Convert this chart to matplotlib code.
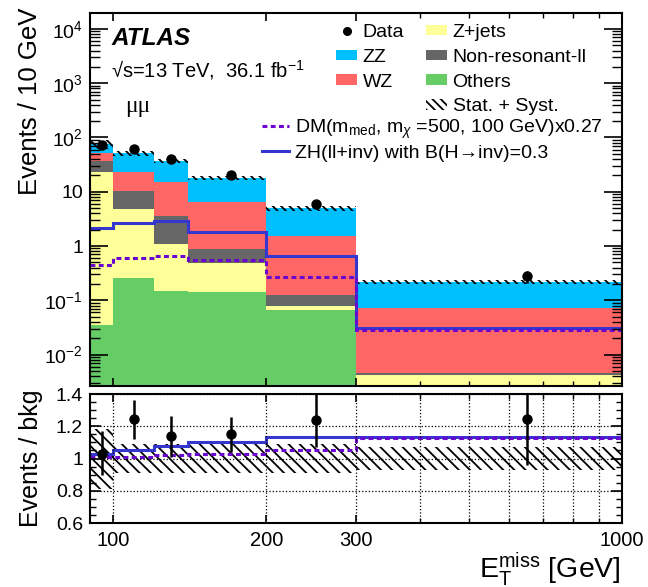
import numpy as np
import matplotlib
matplotlib.use("Agg")
import matplotlib.pyplot as plt
from matplotlib.patches import Patch
from matplotlib.lines import Line2D
from matplotlib.ticker import FixedLocator, FixedFormatter, NullFormatter, LogLocator, MultipleLocator

plt.rcParams['font.family'] = ['Liberation Sans', 'DejaVu Sans']
plt.rcParams['mathtext.fontset'] = 'custom'
plt.rcParams['mathtext.rm'] = 'Liberation Sans'
plt.rcParams['mathtext.it'] = 'Liberation Sans:italic'
plt.rcParams['mathtext.bf'] = 'Liberation Sans:bold'
plt.rcParams['mathtext.sf'] = 'Liberation Sans'
plt.rcParams['hatch.linewidth'] = 1.3

# ---------------- data ----------------
edges = [90, 100, 120, 140, 200, 300, 1000]
centers = [95, 110, 130, 170, 250, 650]

others = [0.035, 0.26, 0.148, 0.144, 0.066, 0.0012]
zjets = [23.4, 4.54, 0.94, 0.35, 0.013, 0.003]
nonres = [14.0, 5.5, 2.5, 0.39, 0.046, 0.0003]
wz = [13.5, 13.2, 11.8, 5.7, 1.4, 0.069]
zz = [24.0, 27.5, 21.1, 11.6, 3.43, 0.146]

data = [73, 61, 40, 20.4, 5.9, 0.276]
data_err = [8.5, 5.5, 4.5, 1.4, 0.75, 0.065]

dm_signal = [0.45, 0.59, 0.66, 0.55, 0.264, 0.028]
zh_signal = [2.12, 2.69, 2.93, 1.8, 0.65, 0.031]

band_lo = [0.812, 0.91, 0.91, 0.91, 0.91, 0.926]
band_hi = [1.183, 1.09, 1.09, 1.09, 1.09, 1.07]

ratio_data = [1.025, 1.245, 1.138, 1.153, 1.24, 1.243]
ratio_err_up = [0.148, 0.12, 0.128, 0.107, 0.18, 0.29]
ratio_err_dn = [0.13, 0.123, 0.13, 0.113, 0.17, 0.286]
ratio_zh = [1.029, 1.054, 1.076, 1.10, 1.136, 1.132]
ratio_dm = [1.008, 1.012, 1.02, 1.025, 1.05, 1.126]

xtick_vals = [100, 200, 300, 1000]
xtick_labels = ['100', '200', '300', '1000']
ytick_vals = [1e-2, 1e-1, 1, 10, 1e2, 1e3, 1e4]
ytick_labels = ['$10^{-2}$', '$10^{-1}$', '1', '10', '$10^{2}$', '$10^{3}$', '$10^{4}$']
rtick_vals = [0.6, 0.8, 1.0, 1.2, 1.4]
rtick_labels = ['0.6', '0.8', '1', '1.2', '1.4']

c_zz = '#00bfff'
c_wz = '#ff6666'
c_zj = '#ffff99'
c_nr = '#666666'
c_ot = '#66cc66'
c_zh = '#3535cf'
c_dm = '#6a06d0'

# ---------------- figure ----------------
W, H = 648, 587
fig = plt.figure(figsize=(W / 100, H / 100), dpi=100)
L, R = 90, 622
ax = fig.add_axes([L / W, 1 - 386 / H, (R - L) / W, (386 - 12.7) / H])
ax2 = fig.add_axes([L / W, 1 - 523 / H, (R - L) / W, (523 - 394) / H])

# stacked histogram
components = [(others, c_ot), (zjets, c_zj), (nonres, c_nr), (wz, c_wz), (zz, c_zz)]
base = np.full(len(centers), 1e-6)
for vals, col in components:
    top = base + np.array(vals)
    ax.stairs(top, edges, baseline=base, fill=True, color=col, linewidth=0)
    base = top
total = base

# uncertainty band
ax.stairs(total * np.array(band_hi), edges, baseline=total * np.array(band_lo),
          fill=True, facecolor='none', edgecolor='black', hatch='\\\\\\\\', linewidth=0)

# signals
ax.stairs(zh_signal, edges, baseline=None, color=c_zh, linewidth=2.2)
ax.stairs(dm_signal, edges, baseline=None, color=c_dm, linewidth=2.2, linestyle=(0, (1.6, 1.1)))

# data
ax.errorbar(centers, data, yerr=data_err, fmt='o', color='black', ms=6.5,
            elinewidth=1.8, capsize=0)

ax.set_xscale('log')
ax.set_yscale('log')
ax.set_xlim(90, 1000)
ax.set_ylim(10 ** -2.58, 10 ** 4.30)

for a in (ax, ax2):
    a.xaxis.set_major_locator(FixedLocator(xtick_vals))
    a.xaxis.set_minor_locator(FixedLocator([400, 500, 600, 700, 800, 900]))
    a.xaxis.set_minor_formatter(NullFormatter())
    a.tick_params(which='both', direction='in', top=True, right=True)
    a.tick_params(axis='x', which='major', length=6, width=1.2)
    a.tick_params(axis='x', which='minor', length=3.5, width=1.0)
    for s in a.spines.values():
        s.set_linewidth(1.5)

ax.xaxis.set_major_formatter(NullFormatter())
ax.yaxis.set_major_locator(FixedLocator(ytick_vals))
ax.yaxis.set_major_formatter(FixedFormatter(ytick_labels))
ax.yaxis.set_minor_locator(LogLocator(base=10, subs=np.arange(2, 10), numticks=20))
ax.yaxis.set_minor_formatter(NullFormatter())
ax.tick_params(axis='y', which='major', length=13, width=1.2, labelsize=14, pad=5)
ax.tick_params(axis='y', which='minor', length=7, width=1.0)

# ratio panel
ax2.stairs(band_hi, edges, baseline=band_lo, fill=True, facecolor='none',
           edgecolor='black', hatch='\\\\\\', linewidth=0)
ax2.stairs(ratio_zh, edges, baseline=None, color=c_zh, linewidth=2.2)
ax2.stairs(ratio_dm, edges, baseline=None, color=c_dm, linewidth=2.2, linestyle=(0, (1.6, 1.1)))
ax2.errorbar(centers, ratio_data, yerr=[ratio_err_dn, ratio_err_up], fmt='o', color='black',
             ms=6.5, elinewidth=1.8, capsize=0)
ax2.set_xscale('log')
ax2.set_xlim(90, 1000)
ax2.set_ylim(0.6, 1.4)
ax2.xaxis.set_major_locator(FixedLocator(xtick_vals))
ax2.xaxis.set_major_formatter(FixedFormatter(xtick_labels))
ax2.xaxis.set_minor_locator(FixedLocator([400, 500, 600, 700, 800, 900]))
ax2.xaxis.set_minor_formatter(NullFormatter())
ax2.yaxis.set_major_locator(FixedLocator(rtick_vals))
ax2.yaxis.set_major_formatter(FixedFormatter(rtick_labels))
ax2.yaxis.set_minor_locator(MultipleLocator(0.05))
ax2.tick_params(axis='y', which='major', length=8, width=1.2, labelsize=14, pad=5)
ax2.tick_params(axis='y', which='minor', length=4, width=1.0)
ax2.tick_params(axis='x', which='major', labelsize=14.5, pad=6)
ax2.grid(True, which='both', axis='x', linestyle=':', color='black', linewidth=0.9)
ax2.grid(True, which='major', axis='y', linestyle=':', color='black', linewidth=0.9)
ax2.set_axisbelow(False)

# labels
fig.text(30 / W, 1 - 8 / H, 'Events / 10 GeV', rotation=90, ha='center', va='top', fontsize=18.5)
fig.text(31 / W, 1 - 458 / H, 'Events / bkg', rotation=90, ha='center', va='center', fontsize=18)
fig.text(621 / W, 1 - 577 / H, r'E$_{\mathrm{T}}^{\mathrm{miss}}$ [GeV]', ha='right', va='baseline', fontsize=20.5)

fig.text(111 / W, 1 - 45 / H, 'ATLAS', fontsize=17.5, fontweight='bold', fontstyle='italic', va='baseline')
fig.text(111 / W, 1 - 77 / H, r'√s=13 TeV,  36.1 fb$^{\mathregular{-1}}$', fontsize=14.5, va='baseline')
fig.text(125 / W, 1 - 112 / H, 'μμ', fontsize=17, va='baseline', family=['Liberation Serif', 'DejaVu Serif'])

# legends
h1 = [Line2D([], [], marker='o', ls='none', color='black', ms=5.5),
      Patch(facecolor=c_zz, edgecolor='none'),
      Patch(facecolor=c_wz, edgecolor='none'),
      Patch(facecolor='none', edgecolor='none'),
      Patch(facecolor=c_zj, edgecolor='none'),
      Patch(facecolor=c_nr, edgecolor='none'),
      Patch(facecolor=c_ot, edgecolor='none'),
      Patch(facecolor='none', edgecolor='black', hatch='\\\\\\\\', linewidth=0)]
l1 = ['Data', 'ZZ', 'WZ', '', 'Z+jets', 'Non-resonant-ll', 'Others', 'Stat. + Syst.']
leg1 = ax.legend(h1, l1, ncol=2, loc='upper left', bbox_to_anchor=(336 / W, 1 - 24 / H),
                 bbox_transform=fig.transFigure, frameon=False, fontsize=14,
                 borderpad=0, borderaxespad=0, handlelength=1.08, handleheight=0.45,
                 handletextpad=0.3, labelspacing=0.4, columnspacing=1.1)
ax.add_artist(leg1)
h2 = [Line2D([], [], color=c_dm, lw=2.2, linestyle=(0, (1.6, 1.1))),
      Line2D([], [], color=c_zh, lw=2.2)]
l2 = [r'DM(m$_{\mathrm{med}}$, m$_{\chi}$ =500, 100 GeV)x0.27',
      'ZH(ll+inv) with B(H→inv)=0.3']
ax.legend(h2, l2, loc='upper left', bbox_to_anchor=(262 / W, 1 - 118 / H),
          bbox_transform=fig.transFigure, frameon=False, fontsize=14,
          borderpad=0, borderaxespad=0, handlelength=1.4, handletextpad=0.3,
          labelspacing=0.15)

fig.savefig('out.png', dpi=100)
